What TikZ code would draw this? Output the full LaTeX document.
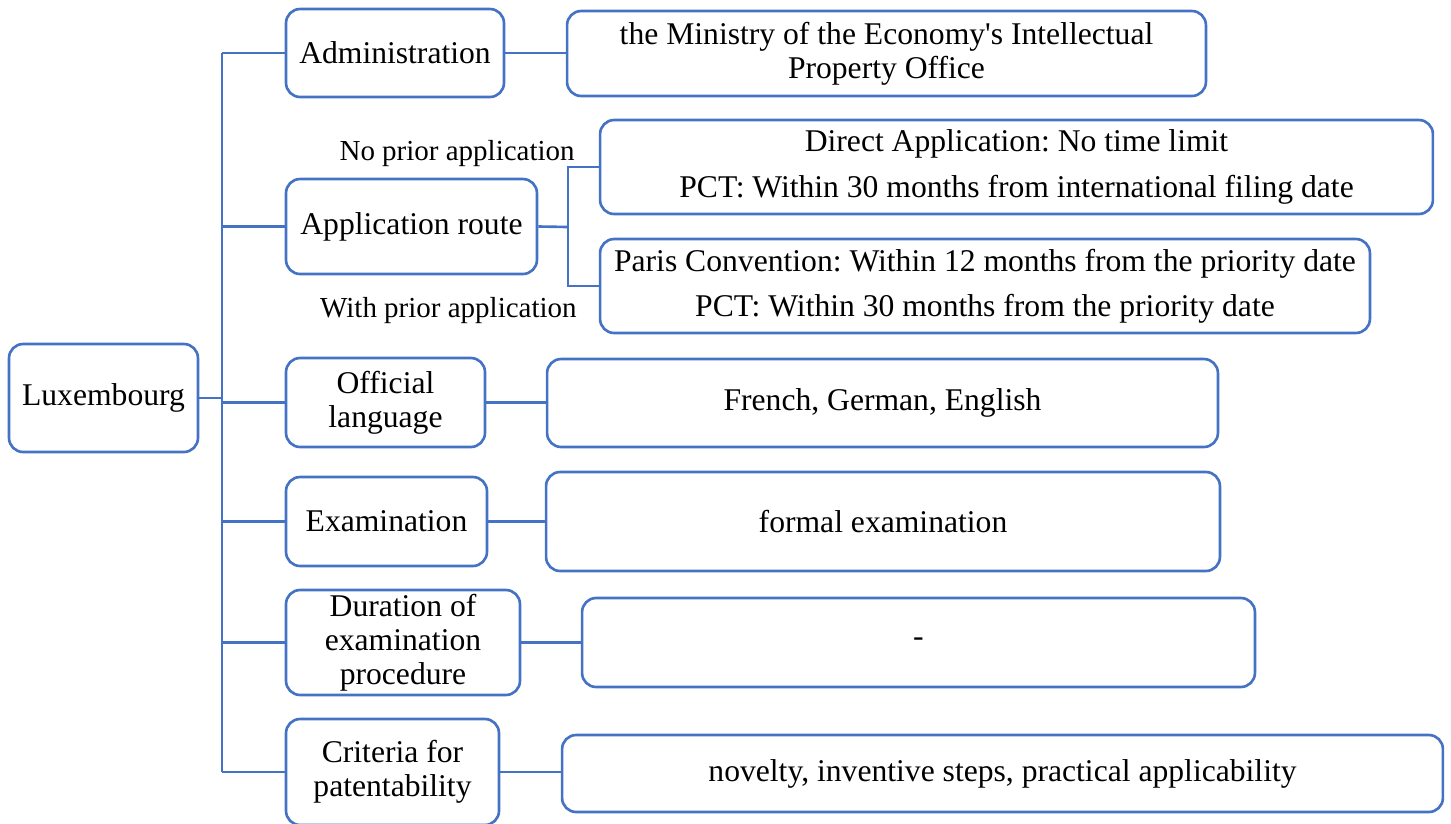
\documentclass[tikz,border=0pt]{standalone}
\usepackage{fontspec}
\setmainfont{Liberation Serif}
\usepackage{tikz}
\usetikzlibrary{positioning,calc}
\definecolor{edgeblue}{HTML}{4472C4}
\frenchspacing

\begin{document}
\begin{tikzpicture}[
   x=0.02cm, y=-0.02cm,
   font=\fontsize{18}{19.5}\selectfont,
   box/.style={draw=edgeblue,line width=1.5pt,rounded corners=8pt,align=center,inner sep=2pt},
   lbl/.style={font=\fontsize{16.5}{18}\selectfont,inner sep=0pt},
   link/.style={draw=edgeblue,line width=1.5pt}]
  \useasboundingbox (0,0) rectangle (1451,823);
  \node[box,minimum width=3.78cm,minimum height=2.16cm] (lux) at (103.5,398) {Luxembourg};
  \node[box,minimum width=4.36cm,minimum height=1.76cm] (admin) at (395,53) {Administration};
  \node[box,minimum width=12.78cm,minimum height=1.70cm] (office) at (886.5,53.5) {the Ministry of the Economy\textquotesingle s Intellectual\\Property Office};
  \node[box,minimum width=5.02cm,minimum height=1.90cm] (route) at (411.5,226.5) {Application route};
  \node[box,minimum width=16.66cm,minimum height=1.88cm] (direct) at (1016.5,167) {Direct Application: No time limit\\[7pt]PCT: Within 30 months from international filing date};
  \node[box,minimum width=15.40cm,minimum height=1.88cm] (paris) at (985,286) {Paris Convention: Within 12 months from the priority date\\[6pt]PCT: Within 30 months from the priority date};
  \node[box,minimum width=3.98cm,minimum height=1.78cm] (lang) at (385.5,402.5) {Official\\language};
  \node[box,minimum width=13.42cm,minimum height=1.76cm] (langs) at (882.5,403) {French, German, English};
  \node[box,minimum width=4.02cm,minimum height=1.78cm] (exam) at (386.5,521.5) {Examination};
  \node[box,minimum width=13.48cm,minimum height=1.98cm] (formal) at (883,521.5) {formal examination};
  \node[box,minimum width=4.68cm,minimum height=2.10cm] (dur) at (403,642.5) {Duration of\\examination\\procedure};
  \node[box,minimum width=13.46cm,minimum height=1.78cm] (none) at (918.5,642.5) {-};
  \node[box,minimum width=4.26cm,minimum height=2.12cm] (crit) at (392.5,772) {Criteria for\\patentability};
  \node[box,minimum width=17.62cm,minimum height=1.54cm] (novel) at (1002.5,773.5) {novelty, inventive steps, practical applicability};
  \node[lbl,anchor=base east] (noprior) at (575,160) {No prior application};
  \node[lbl,anchor=base east] (withprior) at (577,317) {With prior application};
  \coordinate (ttop) at (222,53);
  \coordinate (tbot) at (222,772);
  \coordinate (fork) at (568,227);
  \draw[link] (ttop) -- (tbot);
  \draw[link] (lux.east) -- (lux.east -| ttop);
  \foreach \n in {admin,route,lang,exam,dur,crit}
    \draw[link] (\n.west) -- (\n.west -| ttop);
  \draw[link] (admin.east) -- (admin.east -| office.west);
  \draw[link] (route.east) -- (fork);
  \draw[link] (direct.west) -| (fork) |- (paris.west);
  \draw[link] (lang.east) -- (lang.east -| langs.west);
  \draw[link] (exam.east) -- (exam.east -| formal.west);
  \draw[link] (dur.east) -- (dur.east -| none.west);
  \draw[link] (crit.east) -- (crit.east -| novel.west);
\end{tikzpicture}
\end{document}
